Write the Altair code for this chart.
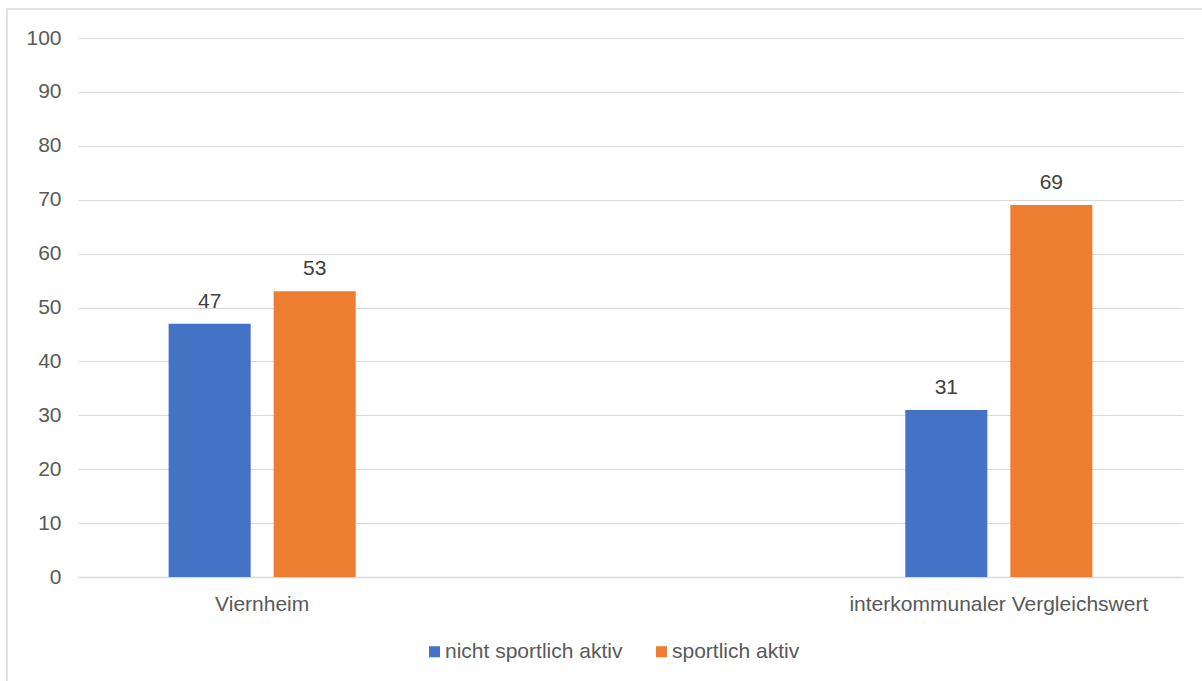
import altair as alt
import pandas as pd

# Werte je Gruppe (Prozent)
categories = ["Viernheim", "interkommunaler Vergleichswert"]
series = ["nicht sportlich aktiv", "sportlich aktiv"]
nicht_aktiv = [47, 31]
aktiv = [53, 69]
y_ticks = [0, 10, 20, 30, 40, 50, 60, 70, 80, 90, 100]

# leere Mittelkategorie als Abstand zwischen den Gruppen
x_domain = [categories[0], " ", categories[1]]

rows = []
for cat, a, b in zip(categories, nicht_aktiv, aktiv):
    rows.append({"Gruppe": cat, "Serie": series[0], "Wert": a})
    rows.append({"Gruppe": cat, "Serie": series[1], "Wert": b})
df = pd.DataFrame(rows)

FONT = "Liberation Sans"
W, H = 1105, 539

x_enc = alt.X(
    "Gruppe:N",
    scale=alt.Scale(domain=x_domain, paddingInner=0, paddingOuter=0),
    sort=x_domain,
    axis=alt.Axis(
        title=None, labelAngle=0, ticks=False, grid=False,
        domainColor="#d9d9d9", domainWidth=1.5,
        labelColor="#595959", labelFont=FONT, labelFontSize=21,
        labelPadding=16, labelLimit=0,
    ),
)
xoff_enc = alt.XOffset(
    "Serie:N",
    scale=alt.Scale(domain=series, paddingInner=0.219, paddingOuter=0.863),
)
y_enc = alt.Y(
    "Wert:Q",
    scale=alt.Scale(domain=[0, 100], nice=False),
    axis=alt.Axis(
        title=None, values=y_ticks, ticks=False, domain=False,
        gridColor="#d9d9d9", gridWidth=1,
        labelColor="#595959", labelFont=FONT, labelFontSize=21,
        labelPadding=17,
    ),
)

bars = alt.Chart(df).mark_bar().encode(
    x=x_enc,
    xOffset=xoff_enc,
    y=y_enc,
    color=alt.Color(
        "Serie:N",
        scale=alt.Scale(domain=series, range=["#4472C4", "#ED7D31"]),
        legend=alt.Legend(
            title=None, orient="none", direction="horizontal",
            legendX=346, legendY=603,
            symbolType="square", symbolSize=121, symbolStrokeWidth=0,
            labelFont=FONT, labelFontSize=21, labelColor="#595959",
            labelOffset=0, columnPadding=28, labelLimit=0,
        ),
    ),
)

labels = alt.Chart(df).mark_text(
    baseline="alphabetic", dy=-16, font=FONT, fontSize=21, color="#404040"
).encode(
    x=alt.X("Gruppe:N", scale=alt.Scale(domain=x_domain, paddingInner=0, paddingOuter=0), sort=x_domain),
    xOffset=xoff_enc,
    y=alt.Y("Wert:Q", scale=alt.Scale(domain=[0, 100], nice=False)),
    text=alt.Text("Wert:Q"),
)

# Rahmen um die gesamte Grafik
frame = alt.Chart(pd.DataFrame({"k": [0]})).mark_rect(
    fill=None, stroke="#d9d9d9", strokeWidth=1.5, clip=False
).encode(
    x=alt.value(-71), x2=alt.value(W + 60),
    y=alt.value(-29), y2=alt.value(H + 120),
)

chart = alt.layer(frame, bars, labels).properties(
    width=W, height=H,
    padding={"left": 78, "top": 38, "right": 19, "bottom": 104},
    autosize=alt.AutoSizeParams(type="none"),
    background="white",
).configure_view(stroke=None)

chart.save("out.html", embed_options={"renderer": "svg", "actions": False})
